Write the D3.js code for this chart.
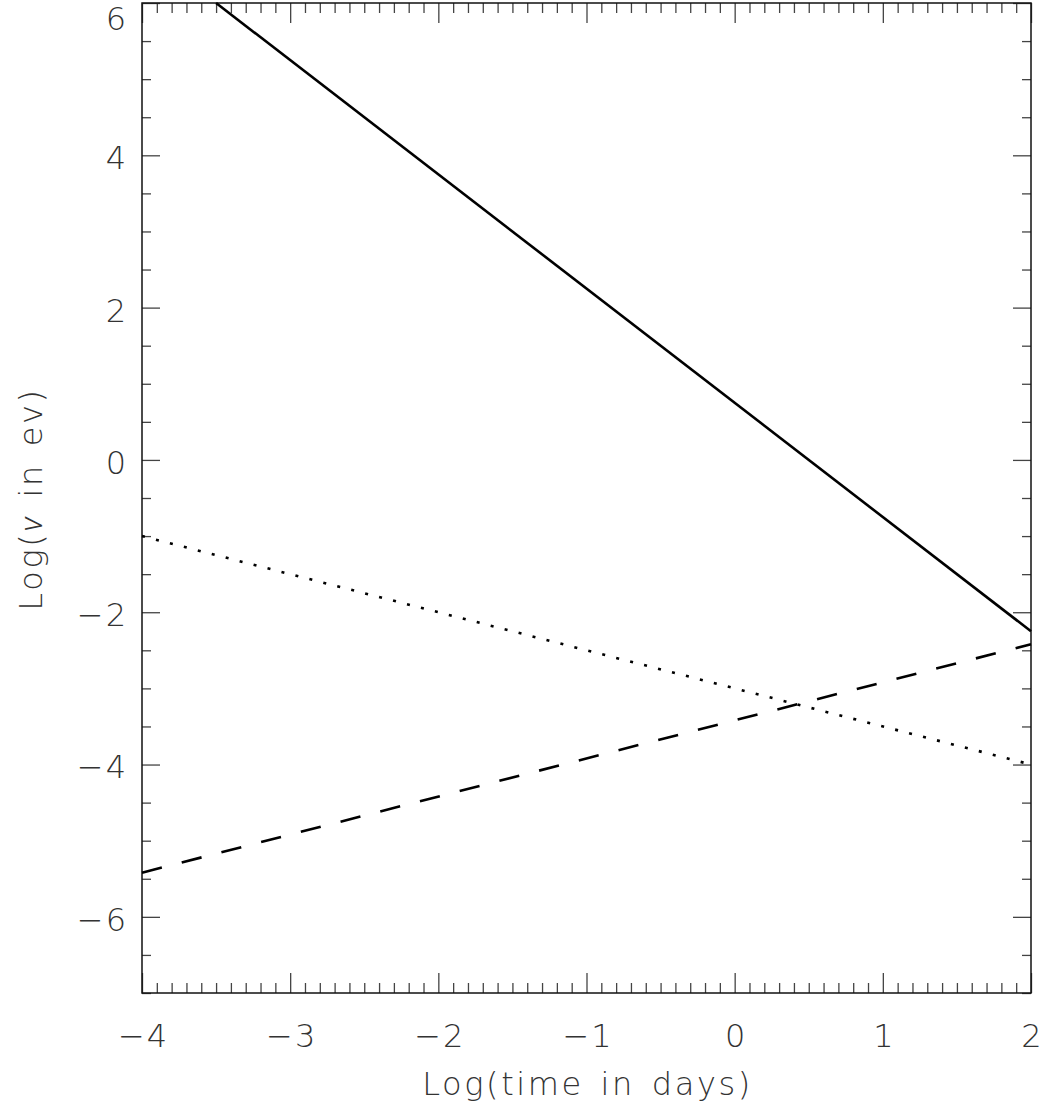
<!DOCTYPE html>
<html lang="en">

<head>
    <meta http-equiv="Content-Type" content="text/html; charset=UTF-8" />
    <script src="https://d3js.org/d3.v7.min.js"></script>
    <title>Log frequency vs log time</title>
    <style>
        body {
            margin: 0;
            background: #fff;
        }
        text {
            font-family: "DejaVu Sans", Roboto, sans-serif;
            font-weight: 200;
            fill: #333;
        }
        .title {
            letter-spacing: 2.6px;
            word-spacing: 4px;
        }
        .greek {
            font-family: Roboto, sans-serif;
            font-weight: 300;
            font-style: italic;
        }
    </style>
</head>

<body>
<svg></svg>

<script>
    // line end points (log time, log nu)
    let solidX = [-3.5, 2];
    let solidY = [6, -2.25];
    let dottedX = [-4, 2];
    let dottedY = [-1, -4];
    let dashedX = [-4, 2];
    let dashedY = [-5.42, -2.42];

    let xDomain = [-4, 2];
    let yDomain = [-7, 6];
    let xMajor = [-4, -3, -2, -1, 0, 1, 2];
    let yMajor = [-6, -4, -2, 0, 2, 4, 6];

    let width = 1047, height = 1109;
    let plotLeft = 142, plotRight = 1031, plotTop = 3, plotBottom = 993;

    let svg = d3.select("svg")
        .attr("width", width)
        .attr("height", height);

    let x = d3.scaleLinear().domain(xDomain).range([plotLeft, plotRight]);
    let y = d3.scaleLinear().domain(yDomain).range([plotBottom, plotTop]);

    // minor ticks every 0.1 on x, every 0.5 on y
    let xMinor = d3.range(-40, 21).map(d => d / 10).filter(d => Math.abs(d - Math.round(d)) > 1e-6);
    let yMinor = d3.range(-14, 13).map(d => d / 2).filter(d => !yMajor.includes(d));

    let fmt = d => d < 0 ? "\u2212" + Math.abs(d) : String(d);

    function tickStyle(g) {
        g.select(".domain").remove();
        g.selectAll("line").attr("stroke", "#444").attr("stroke-width", 1.3);
        g.selectAll("text").attr("fill", "#333")
            .style("font-size", "32px")
            .style("letter-spacing", "2px");
    }

    // bottom
    let xAxis = svg.append("g").attr("transform", `translate(0,${plotBottom})`)
        .call(d3.axisBottom(x).tickValues(xMajor).tickSize(-20).tickPadding(31).tickFormat(fmt))
        .call(tickStyle);
    xAxis.selectAll("text").attr("dx", "1px");
    svg.append("g").attr("transform", `translate(0,${plotBottom})`)
        .call(d3.axisBottom(x).tickValues(xMinor).tickSize(-10).tickFormat(""))
        .call(tickStyle);
    // top
    svg.append("g").attr("transform", `translate(0,${plotTop})`)
        .call(d3.axisTop(x).tickValues(xMajor).tickSize(-20).tickFormat(""))
        .call(tickStyle);
    svg.append("g").attr("transform", `translate(0,${plotTop})`)
        .call(d3.axisTop(x).tickValues(xMinor).tickSize(-10).tickFormat(""))
        .call(tickStyle);
    // left
    let yAxis = svg.append("g").attr("transform", `translate(${plotLeft},0)`)
        .call(d3.axisLeft(y).tickValues(yMajor).tickSize(-18).tickPadding(14).tickFormat(fmt))
        .call(tickStyle);
    yAxis.selectAll("text").attr("dy", "0.42em");
    yAxis.selectAll(".tick").filter(d => d === 6).select("text").attr("dy", "0.82em");
    svg.append("g").attr("transform", `translate(${plotLeft},0)`)
        .call(d3.axisLeft(y).tickValues(yMinor).tickSize(-9).tickFormat(""))
        .call(tickStyle);
    // right
    svg.append("g").attr("transform", `translate(${plotRight},0)`)
        .call(d3.axisRight(y).tickValues(yMajor).tickSize(-18).tickFormat(""))
        .call(tickStyle);
    svg.append("g").attr("transform", `translate(${plotRight},0)`)
        .call(d3.axisRight(y).tickValues(yMinor).tickSize(-9).tickFormat(""))
        .call(tickStyle);

    // frame
    svg.append("rect")
        .attr("x", plotLeft).attr("y", plotTop)
        .attr("width", plotRight - plotLeft).attr("height", plotBottom - plotTop)
        .attr("fill", "none")
        .attr("stroke", "#111")
        .attr("stroke-width", 1.5);

    let line = d3.line().x(d => x(d[0])).y(d => y(d[1]));

    let series = [
        { xs: solidX, ys: solidY, dash: null },
        { xs: dottedX, ys: dottedY, dash: "3,11.4" },
        { xs: dashedX, ys: dashedY, dash: "20.5,20.5" }
    ];

    svg.append("g")
        .selectAll("path")
        .data(series)
        .enter()
        .append("path")
        .attr("d", s => line(d3.zip(s.xs, s.ys)))
        .attr("fill", "none")
        .attr("stroke", "#000")
        .attr("stroke-width", 2.6)
        .attr("stroke-dasharray", s => s.dash);

    // axis titles
    svg.append("text")
        .attr("class", "title")
        .attr("x", (plotLeft + plotRight) / 2 + 1)
        .attr("y", 1095)
        .attr("text-anchor", "middle")
        .style("font-size", "32px")
        .text("Log(time in days)");

    let yTitle = svg.append("text")
        .attr("class", "title")
        .attr("transform", `translate(42,${(plotTop + plotBottom) / 2 + 1}) rotate(-90)`)
        .attr("text-anchor", "middle")
        .style("font-size", "32px");
    yTitle.append("tspan").text("Log(");
    yTitle.append("tspan").attr("class", "greek").text("\u03bd");
    yTitle.append("tspan").text(" in ev)");
</script>
</body>
</html>
